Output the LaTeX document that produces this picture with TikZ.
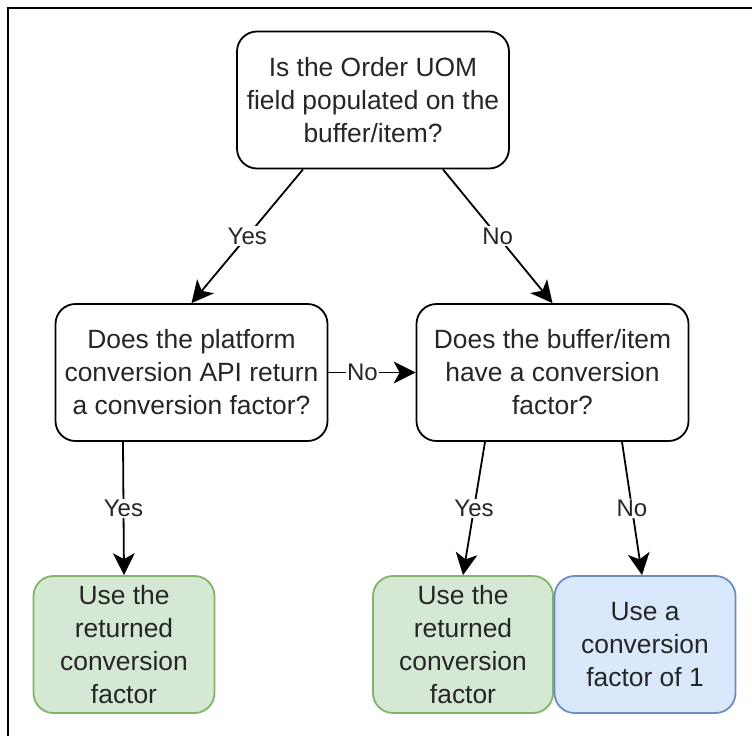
\documentclass[tikz,border=0pt]{standalone}
\usepackage{fontspec}
\setmainfont{Liberation Sans}
\usetikzlibrary{arrows.meta}
\definecolor{txt}{HTML}{262626}
\definecolor{greenfill}{HTML}{D5E8D4}
\definecolor{greenline}{HTML}{82B366}
\definecolor{bluefill}{HTML}{DAE8FC}
\definecolor{blueline}{HTML}{6C8EBF}
\tikzset{flowtip/.tip={Stealth[length=22pt, width=22pt, inset=6pt, line width=0pt]}}
\begin{document}
\begin{tikzpicture}[x=1pt, y=-1pt,
  box/.style={draw=black, fill=white, line width=1.8pt, rounded corners=20pt,
    inner sep=0pt, align=center, text=txt,
    font=\fontsize{26.4}{33}\selectfont, minimum height=137pt},
  question/.style={box, minimum width=272pt},
  answer/.style={box, minimum width=181pt},
  greenbox/.style={answer, draw=greenline, fill=greenfill},
  bluebox/.style={answer, draw=blueline, fill=bluefill},
  flow/.style={line width=1.8pt, draw=black, -flowtip},
  lbl/.style={fill=white, text=txt, inner sep=1.5pt,
    font=\fontsize{24}{28}\selectfont}
]
\useasboundingbox (0,0) rectangle (752,736);

% page frame
\draw[line width=1.8pt] (8,736) -- (8,8) -- (752,8);

% questions
\node[question] (q1) at (373,100)
  {Is the Order UOM\\field populated on the\\buffer/item?};
\node[question] (q2) at (191.5,372.5)
  {Does the platform\\conversion API return\\a conversion factor?};
\node[question] (q3) at (552.5,372.5)
  {Does the buffer/item\\have a conversion\\factor?};

% outcomes
\node[greenbox] (r1) at (124,644.5)
  {Use the\\returned\\conversion\\factor};
\node[greenbox, minimum width=180pt] (r2) at (463,644.5)
  {Use the\\returned\\conversion\\factor};
\node[bluebox] (r3) at (645,644.5)
  {Use a\\conversion\\factor of 1};

% connectors
\draw[flow] ([xshift=-70pt]q1.south) -- (q2.north)
  node[lbl, pos=0.5] {Yes};
\draw[flow] ([xshift=70pt]q1.south) -- (q3.north)
  node[lbl, pos=0.5] {No};
\draw[flow] (q2.east) -- (q3.west)
  node[lbl, pos=0.39] {No};
\draw[flow] ([xshift=-68.5pt]q2.south) -- (r1.north)
  node[lbl, pos=0.5] {Yes};
\draw[flow] ([xshift=-67.5pt]q3.south) -- (r2.north)
  node[lbl, pos=0.5] {Yes};
\draw[flow] ([xshift=69.5pt]q3.south) -- ([xshift=-3pt]r3.north)
  node[lbl, pos=0.5] {No};
\end{tikzpicture}
\end{document}
